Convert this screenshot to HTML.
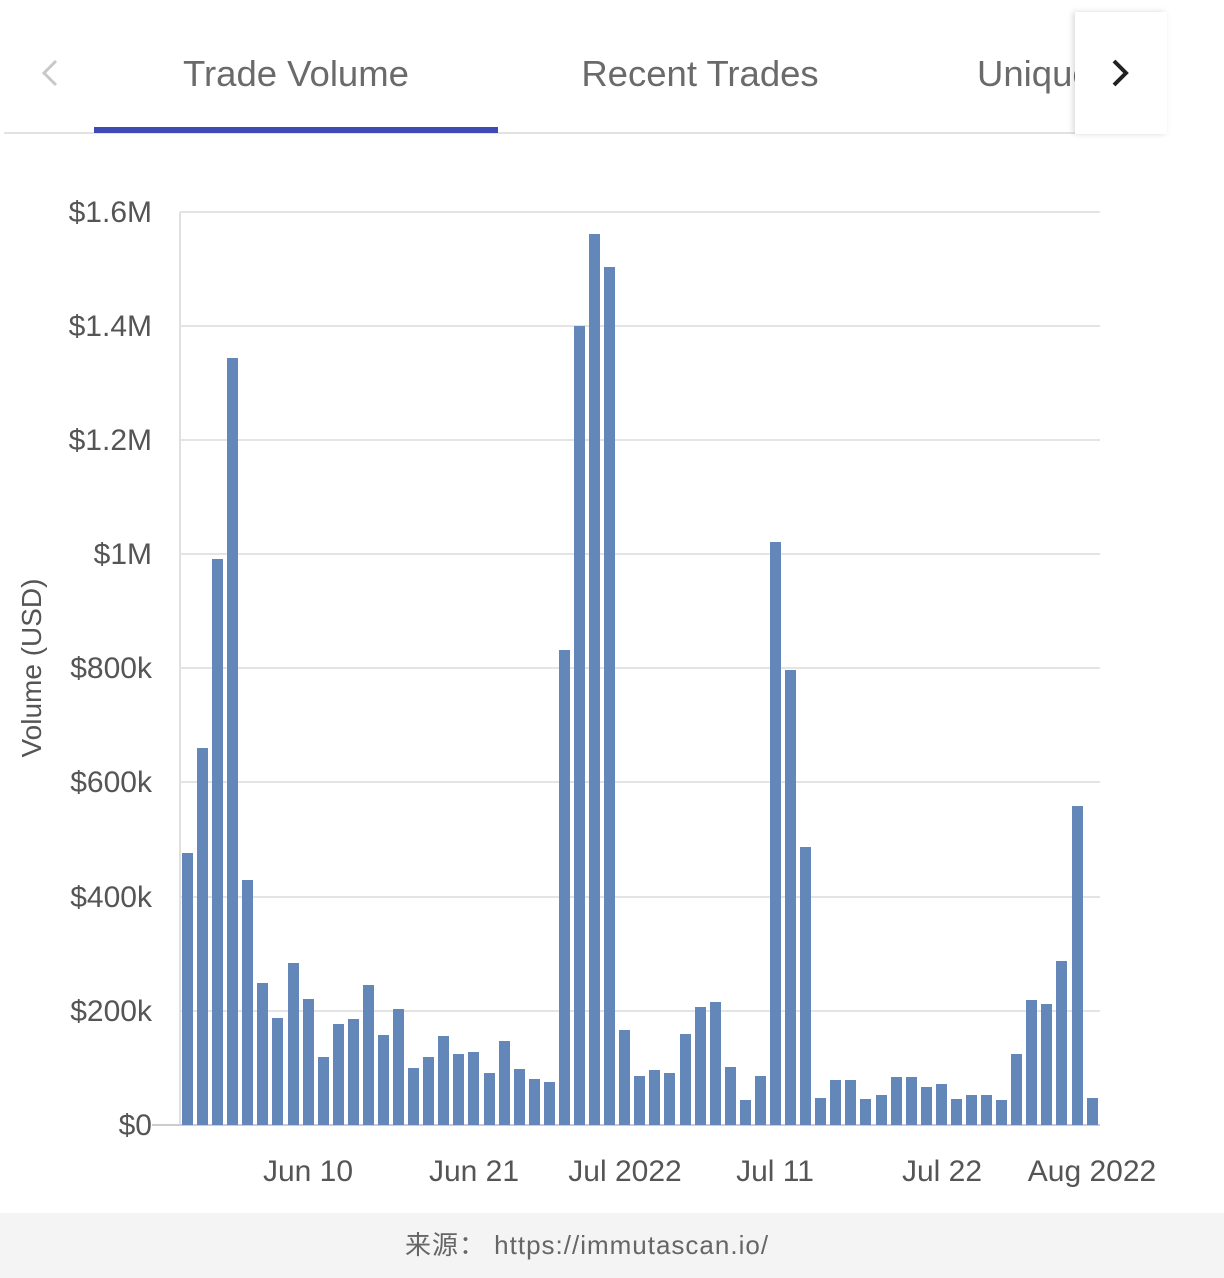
<!DOCTYPE html>
<html><head><meta charset="utf-8"><style>
html,body{margin:0;padding:0;background:#fff;width:1224px;height:1278px;overflow:hidden}
svg{display:block}
</style></head><body>
<svg width="1224" height="1278" xmlns="http://www.w3.org/2000/svg" font-family="Liberation Sans, Noto Sans CJK SC, sans-serif">
<rect x="0" y="0" width="1224" height="1278" fill="#fff"/>
<rect x="0" y="1213" width="1224" height="65" fill="#f4f4f4"/>
<!-- tabs -->
<polyline points="56,61 44,73 56,85" fill="none" stroke="#c8c8c8" stroke-width="3"/>
<text x="296" y="86" font-size="36.5" fill="#6a6a6a" text-anchor="middle">Trade Volume</text>
<text x="700" y="86" font-size="36.5" fill="#6a6a6a" text-anchor="middle">Recent Trades</text>
<text x="977" y="86" font-size="36.5" fill="#6a6a6a">Unique</text>
<rect x="4" y="132" width="1162" height="2" fill="#e2e2e2"/>
<rect x="94" y="127" width="404" height="6" fill="#3f4bb5"/>
<rect x="1075" y="12" width="92" height="122" fill="#fff" style="filter:drop-shadow(-2px 0 3px rgba(0,0,0,0.15))"/>
<polyline points="1114,61 1126,73 1114,85" fill="none" stroke="#222" stroke-width="4"/>
<!-- grid -->
<g stroke="#e4e4e4" stroke-width="2">
<line x1="180" y1="212" x2="1100" y2="212"/><line x1="180" y1="326" x2="1100" y2="326"/>
<line x1="180" y1="440" x2="1100" y2="440"/><line x1="180" y1="554" x2="1100" y2="554"/>
<line x1="180" y1="668" x2="1100" y2="668"/><line x1="180" y1="782" x2="1100" y2="782"/>
<line x1="180" y1="897" x2="1100" y2="897"/><line x1="180" y1="1011" x2="1100" y2="1011"/>
</g>
<line x1="180" y1="212" x2="180" y2="1125" stroke="#e0e0e0" stroke-width="2"/>
<line x1="152" y1="1125" x2="1100" y2="1125" stroke="#ccc" stroke-width="2"/>
<g font-size="30" fill="#555" text-anchor="end">
<text x="152" y="222">$1.6M</text><text x="152" y="336">$1.4M</text><text x="152" y="450">$1.2M</text>
<text x="152" y="564">$1M</text><text x="152" y="678">$800k</text><text x="152" y="792">$600k</text>
<text x="152" y="907">$400k</text><text x="152" y="1021">$200k</text><text x="152" y="1135">$0</text>
</g>
<text transform="translate(41,668) rotate(-90)" font-size="28" fill="#555" text-anchor="middle">Volume (USD)</text>
<g font-size="30" fill="#555" text-anchor="middle">
<text x="308" y="1181">Jun 10</text><text x="474" y="1181">Jun 21</text><text x="625" y="1181">Jul 2022</text>
<text x="775" y="1181">Jul 11</text><text x="942" y="1181">Jul 22</text><text x="1092" y="1181">Aug 2022</text>
</g>
<g fill="#6387b9">
<rect x="182" y="853" width="11" height="272"/><rect x="197" y="748" width="11" height="377"/>
<rect x="212" y="559" width="11" height="566"/><rect x="227" y="358" width="11" height="767"/>
<rect x="242" y="880" width="11" height="245"/><rect x="257" y="983" width="11" height="142"/>
<rect x="272" y="1018" width="11" height="107"/><rect x="288" y="963" width="11" height="162"/>
<rect x="303" y="999" width="11" height="126"/><rect x="318" y="1057" width="11" height="68"/>
<rect x="333" y="1024" width="11" height="101"/><rect x="348" y="1019" width="11" height="106"/>
<rect x="363" y="985" width="11" height="140"/><rect x="378" y="1035" width="11" height="90"/>
<rect x="393" y="1009" width="11" height="116"/><rect x="408" y="1068" width="11" height="57"/>
<rect x="423" y="1057" width="11" height="68"/><rect x="438" y="1036" width="11" height="89"/>
<rect x="453" y="1054" width="11" height="71"/><rect x="468" y="1052" width="11" height="73"/>
<rect x="484" y="1073" width="11" height="52"/><rect x="499" y="1041" width="11" height="84"/>
<rect x="514" y="1069" width="11" height="56"/><rect x="529" y="1079" width="11" height="46"/>
<rect x="544" y="1082" width="11" height="43"/><rect x="559" y="650" width="11" height="475"/>
<rect x="574" y="326" width="11" height="799"/><rect x="589" y="234" width="11" height="891"/>
<rect x="604" y="267" width="11" height="858"/><rect x="619" y="1030" width="11" height="95"/>
<rect x="634" y="1076" width="11" height="49"/><rect x="649" y="1070" width="11" height="55"/>
<rect x="664" y="1073" width="11" height="52"/><rect x="680" y="1034" width="11" height="91"/>
<rect x="695" y="1007" width="11" height="118"/><rect x="710" y="1002" width="11" height="123"/>
<rect x="725" y="1067" width="11" height="58"/><rect x="740" y="1100" width="11" height="25"/>
<rect x="755" y="1076" width="11" height="49"/><rect x="770" y="542" width="11" height="583"/>
<rect x="785" y="670" width="11" height="455"/><rect x="800" y="847" width="11" height="278"/>
<rect x="815" y="1098" width="11" height="27"/><rect x="830" y="1080" width="11" height="45"/>
<rect x="845" y="1080" width="11" height="45"/><rect x="860" y="1099" width="11" height="26"/>
<rect x="876" y="1095" width="11" height="30"/><rect x="891" y="1077" width="11" height="48"/>
<rect x="906" y="1077" width="11" height="48"/><rect x="921" y="1087" width="11" height="38"/>
<rect x="936" y="1084" width="11" height="41"/><rect x="951" y="1099" width="11" height="26"/>
<rect x="966" y="1095" width="11" height="30"/><rect x="981" y="1095" width="11" height="30"/>
<rect x="996" y="1100" width="11" height="25"/><rect x="1011" y="1054" width="11" height="71"/>
<rect x="1026" y="1000" width="11" height="125"/><rect x="1041" y="1004" width="11" height="121"/>
<rect x="1056" y="961" width="11" height="164"/><rect x="1072" y="806" width="11" height="319"/>
<rect x="1087" y="1098" width="11" height="27"/>
</g>
<text x="587" y="1254" font-size="26" fill="#666" text-anchor="middle" letter-spacing="1">来源： https://immutascan.io/</text>
</svg>
</body></html>
